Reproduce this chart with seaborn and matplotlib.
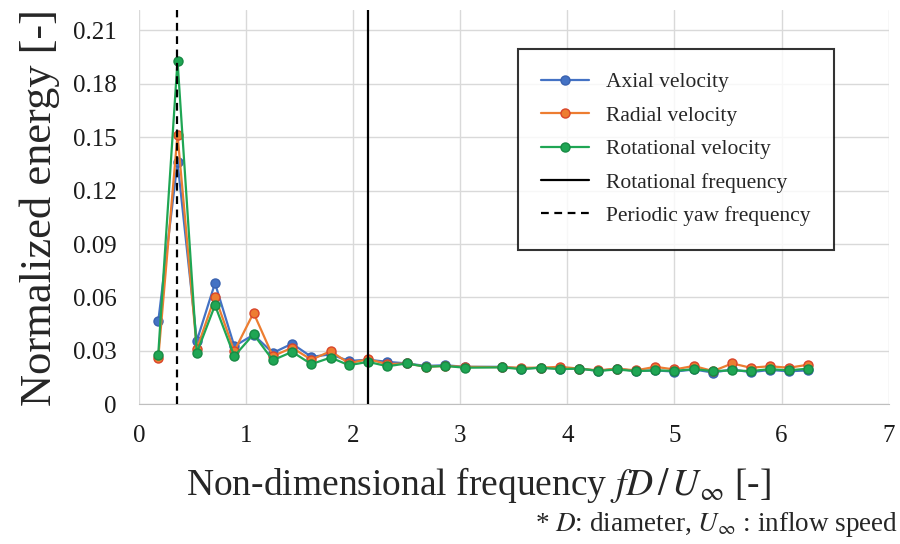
import matplotlib

matplotlib.use("Agg")
import matplotlib.pyplot as plt
import pandas as pd
import seaborn as sns

# Frequencies (fD/U_inf); no sample near 3.2 in the source
freq = [0.18, 0.36, 0.54, 0.71, 0.89, 1.07, 1.25, 1.43, 1.61, 1.79, 1.96,
        2.14, 2.32, 2.50, 2.68, 2.86, 3.04, 3.39, 3.57, 3.75, 3.93, 4.11,
        4.29, 4.46, 4.64, 4.82, 5.00, 5.18, 5.36, 5.54, 5.71, 5.89, 6.07, 6.25]

axial = [0.0465, 0.136, 0.0356, 0.068, 0.0326, 0.039, 0.0288, 0.034, 0.0266,
         0.028, 0.0243, 0.025, 0.0238, 0.0229, 0.0215, 0.0219, 0.021, 0.021,
         0.020, 0.0205, 0.020, 0.020, 0.0187, 0.020, 0.0186, 0.019, 0.0183,
         0.0195, 0.0178, 0.0195, 0.018, 0.0192, 0.0185, 0.019]
radial = [0.0257, 0.1515, 0.031, 0.0605, 0.0298, 0.0513, 0.027, 0.0317, 0.025,
          0.0298, 0.023, 0.0253, 0.0225, 0.0229, 0.021, 0.0215, 0.021, 0.0208,
          0.0205, 0.0205, 0.021, 0.020, 0.019, 0.020, 0.019, 0.021, 0.0195,
          0.0215, 0.0186, 0.0229, 0.0205, 0.0213, 0.0205, 0.0222]
rotational = [0.0279, 0.193, 0.0288, 0.0556, 0.027, 0.0393, 0.0247, 0.0294,
              0.0225, 0.0262, 0.0219, 0.0238, 0.0213, 0.0229, 0.021, 0.0215,
              0.0205, 0.0207, 0.0197, 0.0205, 0.0197, 0.020, 0.0187, 0.0195,
              0.0186, 0.019, 0.0187, 0.0197, 0.0186, 0.019, 0.0186, 0.0197,
              0.019, 0.020]

yaw_freq = 0.357
rot_freq = 2.14

series = {
    "Axial velocity": (axial, "#4472C4", "#3A62B0"),
    "Radial velocity": (radial, "#ED7D31", "#D9452A"),
    "Rotational velocity": (rotational, "#1FA654", "#178A44"),
}

sns.set_style("white")
plt.rcParams["font.family"] = ["Liberation Serif", "DejaVu Serif"]
plt.rcParams["mathtext.fontset"] = "stix"

fig = plt.figure(figsize=(9, 5.44), dpi=100)
ax = fig.add_axes([0.1544, 0.257, 0.833, 0.724])

for name, (vals, col, edge) in series.items():
    df = pd.DataFrame({"f": freq, "e": vals})
    sns.lineplot(data=df, x="f", y="e", ax=ax, color=col, lw=1.6,
                 marker="o", markersize=6.5, markeredgecolor=edge,
                 markeredgewidth=1.0, label=name, zorder=3)

ax.axvline(rot_freq, color="black", lw=1.6, label="Rotational frequency", zorder=4)
ax.axvline(yaw_freq, color="black", lw=1.6, ls=(0, (3.5, 2.5)),
           label="Periodic yaw frequency", zorder=4)

ax.set_xlim(0, 7)
ax.set_ylim(0, 0.2213)
ax.set_xticks(range(0, 8))
ax.set_yticks([0, 0.03, 0.06, 0.09, 0.12, 0.15, 0.18, 0.21])
ax.set_yticklabels(["0", "0.03", "0.06", "0.09", "0.12", "0.15", "0.18", "0.21"])
ax.grid(True, color="#D9D9D9", lw=1.0)
ax.tick_params(axis="both", length=0, labelsize=18, colors="#1a1a1a")
ax.tick_params(axis="x", pad=15)
ax.tick_params(axis="y", pad=16)
for s in ["top", "right", "left"]:
    ax.spines[s].set_visible(False)
ax.spines["bottom"].set_color("#BFBFBF")

ax.set_ylabel("Normalized energy [-]", fontsize=32)
ax.yaxis.set_label_coords(-0.105, 0.5)
ax.set_xlabel(r"Non-dimensional frequency $fD\,/\,U_{\infty}$ [-]", fontsize=27)
ax.xaxis.set_label_coords(0.453, -0.155)

leg = ax.legend(loc="upper left", bbox_to_anchor=(0.505, 0.903), fontsize=15.5,
                frameon=True, fancybox=False, edgecolor="black",
                borderpad=1.1, labelspacing=0.62, handlelength=2.2,
                handletextpad=0.8, borderaxespad=0)
leg.get_frame().set_linewidth(1.5)

fig.text(0.998, 0.01, r"* $D$: diameter, $U_{\infty}$ : inflow speed",
         ha="right", va="bottom", fontsize=19.5)

fig.savefig("out.png", dpi=100, facecolor="white")
